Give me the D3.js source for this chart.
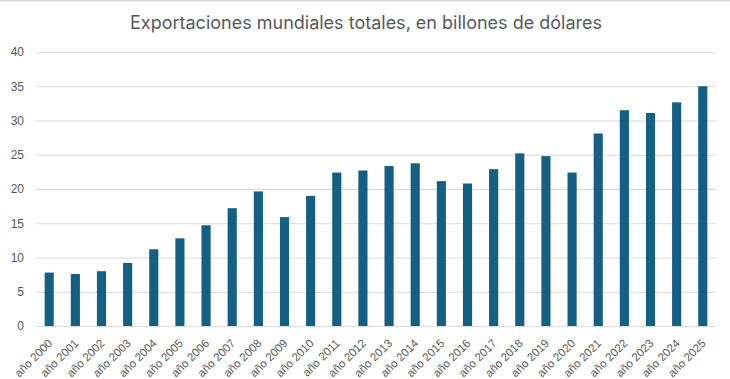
<!DOCTYPE html>
<meta charset="utf-8">
<script src="https://d3js.org/d3.v7.min.js"></script>
<style>
  body { margin: 0; background: #fff; }
  .grid line { stroke: #d9d9d9; stroke-width: 1.2; }
  .tick text { fill: #595959; }
</style>
<body>
<script>

// chart data
var years = ["año 2000","año 2001","año 2002","año 2003","año 2004","año 2005","año 2006",
  "año 2007","año 2008","año 2009","año 2010","año 2011","año 2012","año 2013","año 2014",
  "año 2015","año 2016","año 2017","año 2018","año 2019","año 2020","año 2021","año 2022",
  "año 2023","año 2024","año 2025"];
var exports = [7.8, 7.6, 8.0, 9.2, 11.2, 12.8, 14.7, 17.2, 19.65, 15.9, 19.0, 22.4, 22.7,
  23.35, 23.75, 21.15, 20.8, 22.9, 25.2, 24.8, 22.4, 28.1, 31.5, 31.1, 32.65, 35.0];
var yTicks = [0, 5, 10, 15, 20, 25, 30, 35, 40];
var title = "Exportaciones mundiales totales, en billones de dólares";

var width = 730, height = 379;
var margin = {top: 52, right: 14, bottom: 53, left: 36};

var svg = d3.select("body").append("svg")
    .attr("width", width)
    .attr("height", height)
    .attr("font-family", "Inter, 'Noto Sans', sans-serif");

// thin frame line on top
svg.append("rect")
    .attr("x", 0).attr("y", 0)
    .attr("width", width).attr("height", 1.5)
    .attr("fill", "#d9d9d9");

var x = d3.scaleBand()
    .domain(years)
    .range([margin.left, width - margin.right])
    .paddingInner(0.65)
    .paddingOuter(0.33);

var y = d3.scaleLinear()
    .domain([0, 40])
    .range([height - margin.bottom, margin.top]);

// gridlines + y labels
var yAxis = svg.append("g")
    .attr("class", "grid")
    .attr("transform", "translate(" + margin.left + ",0)")
    .call(d3.axisLeft(y)
      .tickValues(yTicks)
      .tickSize(-(width - margin.left - margin.right))
      .tickPadding(12));
yAxis.select(".domain").remove();
yAxis.selectAll(".tick text").attr("font-size", "12px");

// bars
svg.append("g").selectAll("rect")
    .data(exports)
    .enter().append("rect")
    .attr("x", function(d, i) { return x(years[i]); })
    .attr("y", function(d) { return y(d); })
    .attr("width", x.bandwidth())
    .attr("height", function(d) { return y(0) - y(d); })
    .attr("fill", "#156082");

// x labels, rotated
var xAxis = svg.append("g")
    .attr("transform", "translate(0," + y(0) + ")")
    .call(d3.axisBottom(x).tickSize(0).tickPadding(0));
xAxis.select(".domain").remove();
xAxis.selectAll(".tick text")
    .attr("font-size", "11.5px")
    .attr("text-anchor", "end")
    .attr("y", 0)
    .attr("dy", "0.35em")
    .attr("transform", "translate(1,15) rotate(-45)");

// title
svg.append("text")
    .attr("x", 366)
    .attr("y", 29)
    .attr("text-anchor", "middle")
    .attr("font-size", "18px")
    .attr("fill", "#595959")
    .text(title);

</script>
</body>
</html>
